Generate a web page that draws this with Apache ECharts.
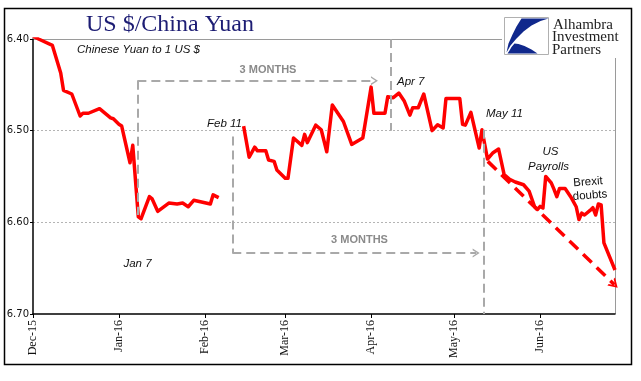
<!DOCTYPE html>
<html>
<head>
<meta charset="utf-8">
<script src="https://cdn.jsdelivr.net/npm/echarts@6/dist/echarts.min.js"></script>
<style>
html,body{margin:0;padding:0;background:#fff;}
#chart{width:641px;height:381px;}
</style>
</head>
<body>
<div id="chart"></div>
<script>
// ---- data ----
const dates = [
  '2015-12-01','2015-12-03','2015-12-08','2015-12-11','2015-12-12','2015-12-15','2015-12-18','2015-12-19','2015-12-21','2015-12-25','2015-12-29','2015-12-30',
  '2016-01-01','2016-01-02','2016-01-05','2016-01-06','2016-01-08','2016-01-09','2016-01-12','2016-01-13','2016-01-15','2016-01-19','2016-01-22','2016-01-24','2016-01-26','2016-01-28',
  '2016-02-03','2016-02-04','2016-02-06',
  '2016-02-10',
  '2016-02-15','2016-02-17','2016-02-19','2016-02-20','2016-02-23','2016-02-24','2016-02-26','2016-02-27',
  '2016-03-01','2016-03-02','2016-03-04','2016-03-07','2016-03-08','2016-03-09','2016-03-12','2016-03-14','2016-03-16','2016-03-18','2016-03-22','2016-03-25','2016-03-29',
  '2016-04-01','2016-04-02','2016-04-05','2016-04-06','2016-04-07','2016-04-09','2016-04-11','2016-04-13','2016-04-15','2016-04-16','2016-04-18','2016-04-20','2016-04-23','2016-04-25','2016-04-27','2016-04-28',
  '2016-05-03','2016-05-04','2016-05-05','2016-05-07','2016-05-10','2016-05-11','2016-05-13','2016-05-15','2016-05-17','2016-05-19','2016-05-21','2016-05-23','2016-05-26','2016-05-28','2016-05-30','2016-05-31',
  '2016-06-01','2016-06-02','2016-06-03','2016-06-05','2016-06-06','2016-06-07','2016-06-08','2016-06-10','2016-06-12','2016-06-14','2016-06-15','2016-06-16','2016-06-17','2016-06-19','2016-06-20','2016-06-21','2016-06-22','2016-06-23','2016-06-24','2016-06-28'
];
const cnyPerUsd = [
  6.397,6.400,6.407,6.437,6.456,6.460,6.484,6.481,6.481,6.476,6.486,6.487,
  6.493,6.495,6.535,6.516,6.594,6.596,6.572,6.5745,6.588,6.579,6.580,6.579,6.583,6.576,
  6.580,6.570,6.573,
  null,
  6.495,6.529,6.518,6.522,6.522,6.532,6.5335,6.543,
  6.552,6.552,6.508,6.516,6.504,6.513,6.494,6.499,6.523,6.472,6.490,6.515,6.508,
  6.4525,6.481,6.481,6.481,6.463,6.464,6.459,6.468,6.483,6.475,6.475,6.460,6.500,6.4935,6.497,6.465,
  6.465,6.493,6.494,6.480,6.519,6.499,6.531,6.524,6.520,6.548,6.553,6.556,6.559,6.566,6.583,6.586,
  6.5826,6.5844,6.550,6.557,6.564,6.572,6.563,6.563,6.572,6.583,6.597,6.590,6.592,6.587,6.584,6.592,6.580,6.581,6.6225,6.652
];
const tickDates = ['2015-12-01','2016-01-01','2016-02-01','2016-03-01','2016-04-01','2016-05-01','2016-06-01'];
const tickLabels = ['Dec-15','Jan-16','Feb-16','Mar-16','Apr-16','May-16','Jun-16'];
const yTicks = [6.40, 6.50, 6.60, 6.70];

function ts(s){
  const [d,t] = s.split(' ');
  const [y,m,dd] = d.split('-').map(Number);
  let h=0, mi=0;
  if (t){ [h,mi] = t.split(':').map(Number); }
  return Date.UTC(y, m-1, dd, h, mi);
}
const tickTimes = tickDates.map(ts);
const lineData = dates.map((d,i)=>[ts(d), cnyPerUsd[i]]);

const chevron = 'path://M0,10 L5,0 L10,10 L8.2,10 L5,3.6 L1.8,10 Z';
const gray = '#a9a9a9';
const grayDash = {color: gray, width: 2, type: [9,5]};
function seg(a, b, style, endSym, endSize, endColor){
  return [
    {coord:[ts(a[0]), a[1]], symbol:'none', lineStyle: style},
    {coord:[ts(b[0]), b[1]], symbol: endSym || 'none', symbolSize: endSym ? endSize : 0,
     itemStyle: endColor ? {color:endColor} : undefined}
  ];
}
function shift(pts, dx, dy){ return pts.map(p=>[p[0]+dx, p[1]+dy]); }

const chart = echarts.init(document.getElementById('chart'), null, {renderer:'canvas'});
const italic = 'italic 11.5px "Liberation Sans"';
function txt(x, y, text, font, align, fill){
  return {type:'text', x:x, y:y, z:10, style:{text:text, font:font, fill:fill||'#111', align:align||'left', verticalAlign:'middle'}};
}
const logoA = shift([[17,1],[44,1],[36,3.5],[27,8],[19,14],[12,21],[6,28],[2,35],[4,26],[8,17],[12,9]], 504.5, 17.5);
const logoB = shift([[3,36],[33,36],[27,32],[20,28.5],[14,26.5],[10,26],[7,29.5],[5,33]], 504.5, 17.5);
chart.setOption({
  animation:false,
  backgroundColor:'#fff',
  grid:{left:33, right:26, top:39, bottom:67},
  xAxis:{
    type:'value',
    min: ts('2015-12-01'),
    max: ts('2016-06-28'),
    axisLine:{show:true, lineStyle:{color:'#000', width:1.5}},
    axisTick:{show:true, length:4, lineStyle:{color:'#000', width:1}, customValues: tickTimes},
    splitLine:{show:false},
    axisLabel:{
      customValues: tickTimes,
      rotate:90, margin:6,
      fontFamily:'Liberation Serif', fontSize:12, color:'#111',
      formatter:function(v){ const i = tickTimes.indexOf(v); return i>=0 ? tickLabels[i] : ''; }
    }
  },
  yAxis:{
    type:'value', inverse:true, min:6.40, max:6.70, interval:0.1,
    axisLine:{show:true, lineStyle:{color:'#000', width:1.5}},
    axisTick:{show:true, length:3, lineStyle:{color:'#000'}},
    axisLabel:{fontFamily:'DejaVu Sans', fontSize:10, color:'#111', margin:4,
      formatter:function(v){ return v.toFixed(2); }},
    splitLine:{show:true, showMinLine:false, showMaxLine:false, lineStyle:{color:'#b4b4b4', type:[2,2], width:1}}
  },
  series:[{
    type:'line',
    data: lineData,
    showSymbol:false,
    connectNulls:false,
    lineStyle:{color:'#ff0000', width:3.5, join:'round'},
    z:3,
    markLine:{
      silent:true,
      symbol:['none','none'],
      label:{show:false},
      data:[
        seg(['2016-01-07 15:36',6.4455],['2016-01-07 15:36',6.592], grayDash),
        seg(['2016-01-07 15:36',6.4455],['2016-04-02 05:00',6.4455], grayDash, chevron, [9,7], '#b8b8b8'),
        seg(['2016-04-08 00:00',6.40],['2016-04-08 00:00',6.50], grayDash),
        seg(['2016-02-10 21:36',6.5063],['2016-02-10 21:36',6.6335], grayDash),
        seg(['2016-02-10 21:36',6.6335],['2016-05-08 21:36',6.6335], grayDash, chevron, [9,7], '#b8b8b8'),
        seg(['2016-05-11 16:48',6.499],['2016-05-11 16:48',6.70], grayDash),
        seg(['2016-05-13 02:24',6.5335],['2016-06-27 19:00',6.668], {color:'#ff0000', width:3.5, type:[12,7]}, chevron, [11,9], '#ff0000')
      ]
    }
  }],
  graphic:[
    {type:'rect', shape:{x:4.5,y:8.5,width:627,height:356}, style:{fill:'none', stroke:'#000', lineWidth:1.5}},
    {type:'line', shape:{x1:33,y1:39.5,x2:502,y2:39.5}, style:{stroke:'#9a9a9a', lineWidth:1}},
    {type:'line', shape:{x1:615.5,y1:58,x2:615.5,y2:314}, style:{stroke:'#9a9a9a', lineWidth:1}},
    {type:'text', x:170, y:24.5, style:{text:'US $/China Yuan', font:'24px "Liberation Serif"', fill:'#1d1d74', align:'center', verticalAlign:'middle'}},
    // logo
    {type:'rect', shape:{x:504.5,y:17.5,width:44,height:37}, style:{fill:'#fff', stroke:'#b0b0b0', lineWidth:1}},
    {type:'polygon', shape:{points: logoA}, style:{fill:'#10288c'}},
    {type:'polygon', shape:{points: logoB}, style:{fill:'#10288c'}},
    txt(553, 25, 'Alhambra', '15px "Liberation Serif"', 'left', '#222'),
    txt(552, 37.5, 'Investment', '15px "Liberation Serif"', 'left', '#222'),
    txt(552, 50, 'Partners', '15px "Liberation Serif"', 'left', '#222'),
    // annotations
    txt(77, 50, 'Chinese Yuan to 1 US $', italic),
    txt(268, 70, '3 MONTHS', 'bold 11px "Liberation Sans"', 'center', '#8a8a8a'),
    txt(359.5, 240, '3 MONTHS', 'bold 11px "Liberation Sans"', 'center', '#8a8a8a'),
    txt(137.5, 263.5, 'Jan 7', italic, 'center'),
    txt(242, 123.5, 'Feb 11', italic, 'right'),
    txt(397, 82, 'Apr 7', italic),
    txt(486, 113.5, 'May 11', italic),
    txt(550.5, 152, 'US', italic, 'center'),
    txt(548.5, 166.5, 'Payrolls', italic, 'center'),
    {type:'text', x:588, y:182, rotation:0.08, style:{text:'Brexit', font:'11.5px "Liberation Sans"', fill:'#111', align:'center', verticalAlign:'middle'}},
    {type:'text', x:590, y:195.5, rotation:0.08, style:{text:'doubts', font:'11.5px "Liberation Sans"', fill:'#111', align:'center', verticalAlign:'middle'}}
  ]
});
</script>
</body>
</html>
